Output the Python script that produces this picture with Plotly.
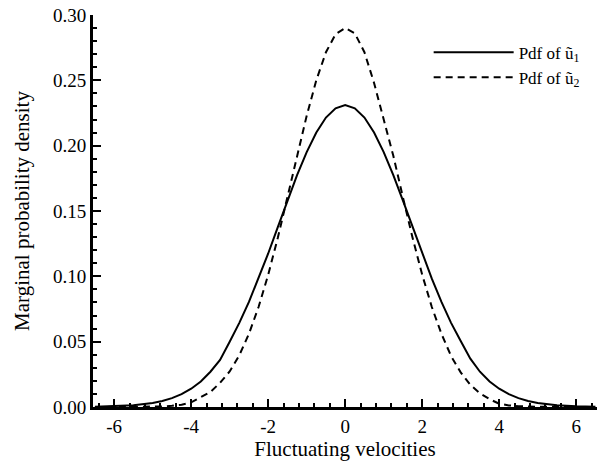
import plotly.graph_objects as go

x_vals = [-6.5, -6.0, -5.5, -5.0, -4.75, -4.5, -4.25, -4.0, -3.75, -3.5, -3.25, -3.0,
          -2.75, -2.5, -2.25, -2.0, -1.75, -1.5, -1.25, -1.0, -0.75, -0.5, -0.25, 0.0,
          0.25, 0.5, 0.75, 1.0, 1.25, 1.5, 1.75, 2.0, 2.25, 2.5, 2.75, 3.0, 3.25, 3.5,
          3.75, 4.0, 4.25, 4.5, 4.75, 5.0, 5.5, 6.0, 6.5]

pdf_u1 = [0.0002, 0.0005, 0.0013, 0.0031, 0.0046, 0.0068, 0.0098, 0.0140, 0.0195, 0.0270,
          0.0360, 0.0500, 0.0644, 0.0804, 0.0982, 0.1175, 0.1377, 0.1580, 0.1774, 0.1951,
          0.2101, 0.2215, 0.2286, 0.2310, 0.2286, 0.2215, 0.2101, 0.1951, 0.1774, 0.1580,
          0.1377, 0.1175, 0.0982, 0.0804, 0.0644, 0.0505, 0.0370, 0.0270, 0.0195, 0.0140,
          0.0098, 0.0068, 0.0046, 0.0031, 0.0013, 0.0005, 0.0002]

pdf_u2 = [0.0, 0.0, 0.0001, 0.0002, 0.0004, 0.0009, 0.0017, 0.0035, 0.0072, 0.0115,
          0.0185, 0.0272, 0.0396, 0.0560, 0.0765, 0.1012, 0.1295, 0.1604, 0.1922, 0.2229,
          0.2501, 0.2715, 0.2853, 0.2900, 0.2860, 0.2715, 0.2480, 0.2210, 0.1922, 0.1604,
          0.1295, 0.1012, 0.0765, 0.0560, 0.0390, 0.0265, 0.0170, 0.0105, 0.0060, 0.0025,
          0.0012, 0.0006, 0.0003, 0.0002, 0.0001, 0.0, 0.0]

x_tick_vals = [-6, -4, -2, 0, 2, 4, 6]
x_tick_text = ["-6", "-4", "-2", "0", "2", "4", "6"]
y_tick_vals = [0.00, 0.05, 0.10, 0.15, 0.20, 0.25, 0.30]
y_tick_text = ["0.00", "0.05", "0.10", "0.15", "0.20", "0.25", "0.30"]

font = "Liberation Serif, Times New Roman, serif"

fig = go.Figure()
fig.add_trace(go.Scatter(x=x_vals, y=pdf_u1, mode="lines", name="Pdf of ũ<sub>1</sub>",
                         legendgroup="a",
                         line=dict(color="black", width=2, dash="solid")))
fig.add_trace(go.Scatter(x=x_vals, y=pdf_u2, mode="lines", name="Pdf of ũ<sub>2</sub>",
                         legendgroup="b",
                         line=dict(color="black", width=2, dash="7px,5px")))

fig.update_layout(
    width=597, height=468,
    margin=dict(l=93, r=0, t=15, b=61),
    paper_bgcolor="white", plot_bgcolor="white",
    font=dict(family=font, size=18, color="black"),
    showlegend=True,
    legend=dict(x=0.666, y=0.95, xanchor="left", yanchor="top",
                bgcolor="rgba(0,0,0,0)", font=dict(size=17, family=font),
                itemwidth=80, tracegroupgap=0, traceorder="grouped"),
)
fig.update_xaxes(
    range=[-6.55, 6.54], tickvals=x_tick_vals, ticktext=x_tick_text,
    showgrid=False, zeroline=False,
    showline=True, linecolor="black", linewidth=3,
    ticks="inside", ticklen=8, tickwidth=2, tickcolor="black",
    minor=dict(dtick=0.4, tick0=0, ticks="inside", ticklen=4, tickwidth=1.5, tickcolor="black"),
    tickfont=dict(size=19, family=font),
    title=dict(text="Fluctuating velocities", font=dict(size=21, family=font), standoff=4),
)
fig.update_yaxes(
    range=[0, 0.30], tickvals=y_tick_vals, ticktext=y_tick_text,
    showgrid=False, zeroline=False,
    showline=True, linecolor="black", linewidth=3,
    ticks="inside", ticklen=8, tickwidth=2, tickcolor="black",
    minor=dict(dtick=0.01, ticks="inside", ticklen=4, tickwidth=1.5, tickcolor="black"),
    tickfont=dict(size=19, family=font),
    title=dict(text="Marginal probability density", font=dict(size=21, family=font), standoff=18),
)

fig.write_html("out.html")
